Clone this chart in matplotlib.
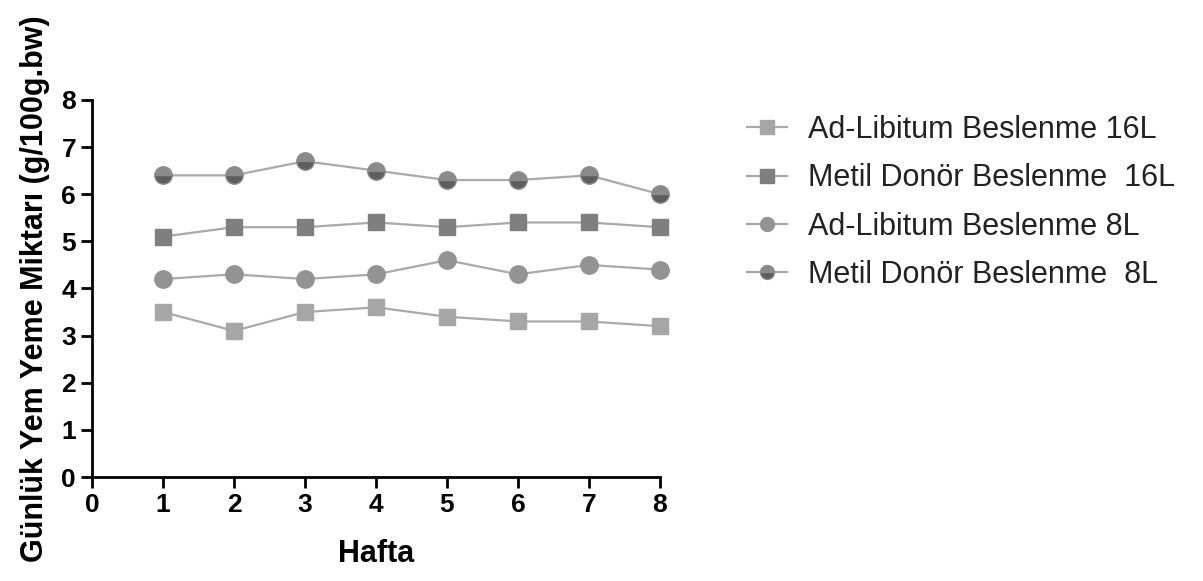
import matplotlib
matplotlib.use('Agg')
import matplotlib.pyplot as plt

plt.rcParams['font.family'] = ['Liberation Sans', 'DejaVu Sans']

hafta = [1, 2, 3, 4, 5, 6, 7, 8]
ad_lib_16l = [3.5, 3.1, 3.5, 3.6, 3.4, 3.3, 3.3, 3.2]
metil_16l = [5.1, 5.3, 5.3, 5.4, 5.3, 5.4, 5.4, 5.3]
ad_lib_8l = [4.2, 4.3, 4.2, 4.3, 4.6, 4.3, 4.5, 4.4]
metil_8l = [6.4, 6.4, 6.7, 6.5, 6.3, 6.3, 6.4, 6.0]
labels = ['Ad-Libitum Beslenme 16L', 'Metil Donör Beslenme  16L',
          'Ad-Libitum Beslenme 8L', 'Metil Donör Beslenme  8L']


def build_graph():
    fig = plt.figure(figsize=(12.03, 5.81), dpi=100)
    ax = fig.add_axes([0.0765, 0.179, 0.4721, 0.649])

    line_col = '#a9a9a9'
    common = dict(color=line_col, lw=1.6, clip_on=False)
    ax.plot(hafta, ad_lib_16l, marker='s', markersize=12,
            markerfacecolor='#a6a6a6', markeredgecolor='#a6a6a6', label=labels[0], **common)
    ax.plot(hafta, metil_16l, marker='s', markersize=12,
            markerfacecolor='#7f7f7f', markeredgecolor='#7f7f7f', label=labels[1], **common)
    ax.plot(hafta, ad_lib_8l, marker='o', markersize=12.5,
            markerfacecolor='#939393', markeredgecolor='#939393', label=labels[2], **common)
    ax.plot(hafta, metil_8l, marker='o', markersize=12.5,
            fillstyle='top', markerfacecolor='#8a8a8a', markerfacecoloralt='#5e5e5e',
            markeredgecolor='#8a8a8a', label=labels[3], **common)

    ax.set_xlim(0, 8)
    ax.set_ylim(0, 8)
    ax.set_xticks(range(0, 9))
    ax.set_yticks(range(0, 9))
    ax.spines['top'].set_visible(False)
    ax.spines['right'].set_visible(False)
    for s in ['left', 'bottom']:
        ax.spines[s].set_linewidth(2)
    ax.tick_params(width=2, length=8, labelsize=19)
    for t in ax.get_xticklabels() + ax.get_yticklabels():
        t.set_fontweight('bold')

    ax.set_xlabel('Hafta', fontsize=22, fontweight='bold', labelpad=16)
    ax.set_ylabel('Günlük Yem Yeme Miktarı (g/100g.bw)', fontsize=22,
                  fontweight='bold', labelpad=8)

    leg = ax.legend(loc='upper left', bbox_to_anchor=(1.105, 1.033), frameon=False,
                    fontsize=22, handlelength=1.3, handletextpad=0.7,
                    labelspacing=0.6, markerscale=0.8)
    for t in leg.get_texts():
        t.set_color('#222222')

    fig.savefig('out.png', dpi=100)


if __name__ == "__main__":
    build_graph()
